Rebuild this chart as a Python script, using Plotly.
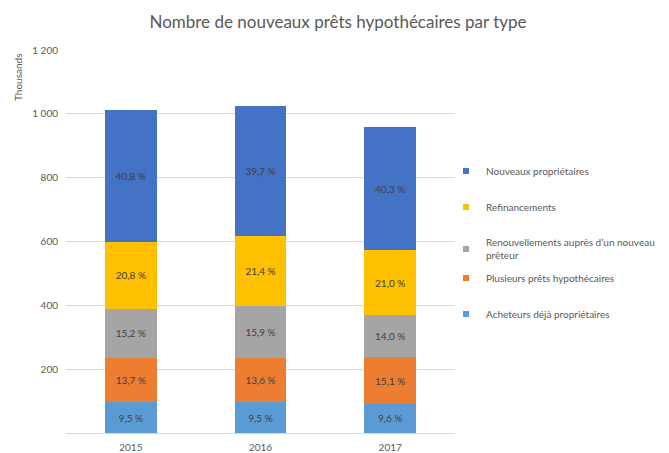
import plotly.graph_objects as go

years = ["2015", "2016", "2017"]
series_names = [
    "Acheteurs déjà propriétaires",
    "Plusieurs prêts hypothécaires",
    "Renouvellements auprès d’un nouveau<br>prêteur",
    "Refinancements",
    "Nouveaux propriétaires",
]
acheteurs = [96, 97, 92]
plusieurs = [139, 139, 145]
renouvellements = [154, 163, 134]
refinancements = [210, 219, 201]
nouveaux = [413, 407, 386]

pct_acheteurs = ["9,5 %", "9,5 %", "9,6 %"]
pct_plusieurs = ["13,7 %", "13,6 %", "15,1 %"]
pct_renouvellements = ["15,2 %", "15,9 %", "14,0 %"]
pct_refinancements = ["20,8 %", "21,4 %", "21,0 %"]
pct_nouveaux = ["40,8 %", "39,7 %", "40,3 %"]

y_tickvals = [0, 200, 400, 600, 800, 1000, 1200]
y_ticktext = ["", "200", "400", "600", "800", "1 000", "1 200"]

colors = ["#5B9BD5", "#ED7D31", "#A5A5A5", "#FFC000", "#4472C4"]
values = [acheteurs, plusieurs, renouvellements, refinancements, nouveaux]
labels = [pct_acheteurs, pct_plusieurs, pct_renouvellements, pct_refinancements, pct_nouveaux]
legend_ids = ["legend5", "legend4", "legend3", "legend2", "legend"]
legend_ypix = [306, 270, 241, 199, 163]

FONT = "Lato"
W, H = 669, 453
# the page body adds an 8px offset; plot area in figure pixels
L, T, PW, PH = 58, 42, 389, 383

fig = go.Figure()
for name, vals, txt, col in zip(series_names, values, labels, colors):
    fig.add_trace(go.Bar(
        x=years, y=vals, name=name, marker=dict(color=col, line=dict(width=0)),
        text=txt, textposition="inside", insidetextanchor="middle",
        textangle=0, constraintext="none",
        textfont=dict(family=FONT, size=10, color="#404040"),
        showlegend=False, hoverinfo="skip",
    ))
# legend proxies (small square markers like the original)
for name, col, lid in zip(series_names, colors, legend_ids):
    fig.add_trace(go.Scatter(
        x=[None], y=[None], mode="markers", name=name, legend=lid,
        marker=dict(symbol="square", size=6, color=col), showlegend=True,
    ))

legend_common = dict(
    xref="container", yref="container", xanchor="left", yanchor="middle",
    bgcolor="rgba(0,0,0,0)", borderwidth=0, itemwidth=30,
    font=dict(family=FONT, size=10, color="#595959"),
)
layout_legends = {}
for lid, yp in zip(legend_ids, legend_ypix):
    d = dict(legend_common)
    d.update(x=438 / W, y=1 - yp / H)
    layout_legends[lid] = d

fig.update_layout(
    width=W, height=H,
    margin=dict(l=L, r=W - L - PW, t=T, b=H - T - PH, autoexpand=False),
    paper_bgcolor="white", plot_bgcolor="white",
    barmode="stack", bargap=0.6,
    font=dict(family=FONT, size=10, color="#595959"),
    title=dict(text="Nombre de nouveaux prêts hypothécaires par type",
               x=330 / W, xanchor="center", y=1 - 14 / H, yanchor="middle",
               font=dict(family=FONT, size=17, color="#595959")),
    xaxis=dict(showgrid=False, showline=True, linecolor="#D9D9D9", linewidth=1,
               ticks="", ticklabelstandoff=5, tickfont=dict(size=10, color="#595959"),
               fixedrange=True, automargin=False),
    yaxis=dict(range=[0, 1200], tickvals=y_tickvals, ticktext=y_ticktext,
               showgrid=True, gridcolor="#D9D9D9", gridwidth=1, zeroline=False,
               showline=False, ticks="", ticklabelstandoff=7, automargin=False,
               tickfont=dict(size=10, color="#595959")),
    annotations=[dict(text="Thousands", textangle=-90, xref="paper", yref="paper",
                      x=(10 - L) / PW, y=(T + PH - 70) / PH, xanchor="center",
                      yanchor="middle", showarrow=False,
                      font=dict(family=FONT, size=10, color="#595959"))],
    **layout_legends,
)

fig.write_html("out.html")
